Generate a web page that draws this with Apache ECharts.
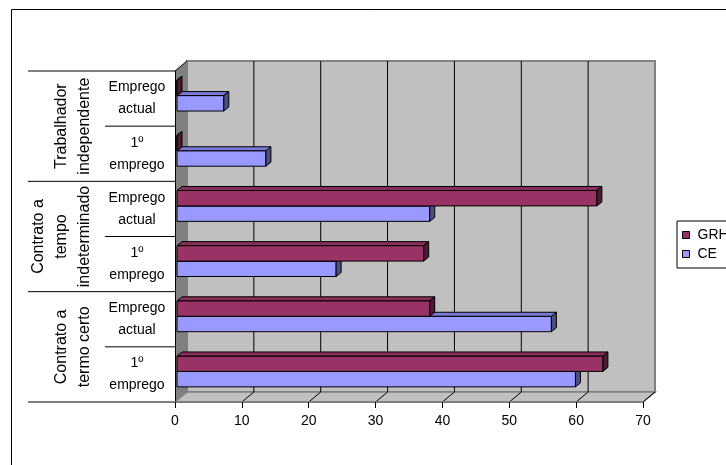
<!DOCTYPE html>
<html>
<head>
<meta charset="utf-8">
<script src="https://cdn.jsdelivr.net/npm/echarts@6/dist/echarts.min.js"></script>
<style>
  html, body { margin: 0; padding: 0; background: #ffffff; }
  #chart { width: 726px; height: 465px; }
</style>
</head>
<body>
<div id="chart"></div>
<script>
// Contract groups (outer level of the category axis) and job rows inside each group
const groups = ['Contrato a\ntermo certo', 'Contrato a\ntempo\nindeterminado', 'Trabalhador\nindependente'];
const jobs = ['1º\nemprego', 'Emprego\nactual'];
// One category per (group, job) pair, bottom to top
const categories = [
  'Contrato a termo certo / 1º emprego',
  'Contrato a termo certo / Emprego actual',
  'Contrato a tempo indeterminado / 1º emprego',
  'Contrato a tempo indeterminado / Emprego actual',
  'Trabalhador independente / 1º emprego',
  'Trabalhador independente / Emprego actual'
];
const seriesNames = ['GRH', 'CE'];
const grhValues = [63.7, 37.8, 36.9, 62.8, 0, 0];
const ceValues = [59.6, 56.0, 23.8, 37.8, 13.3, 7.0];
const xTicks = [0, 10, 20, 30, 40, 50, 60, 70];

const FONT = '"Liberation Sans", Arial, sans-serif';
// 3D look: wall depth, bar depth, bar placement inside the band
const WALL_DX = 12, WALL_DY = -10;
const BAR_DX = 5, BAR_DY = -4;
const BAR_SHIFT_X = 2, BAR_SHIFT_Y = -3;
const BAR_FRAC = 0.28;
const TABLE_LEFT = 28, TABLE_MID = 105;

const COLORS = {
  GRH: { front: '#993366', top: '#8a2e5c', side: '#4d1a33' },
  CE:  { front: '#9999ff', top: '#7a7ad6', side: '#4d4d80' }
};

function barRenderer(name, above) {
  const c = COLORS[name];
  return function (params, api) {
    const val = api.value(0), idx = api.value(1);
    const p0 = api.coord([0, idx]);
    const p1 = api.coord([val, idx]);
    const band = api.size([0, 1])[1];
    const h = band * BAR_FRAC;
    const x0 = p0[0] + BAR_SHIFT_X, x1 = p1[0] + BAR_SHIFT_X;
    const yc = p0[1] + BAR_SHIFT_Y;
    const yT = above ? yc - h : yc;
    const yB = above ? yc : yc + h;
    const line = { stroke: '#000', lineWidth: 1 };
    return {
      type: 'group',
      children: [
        { type: 'rect', shape: { x: x0, y: yT, width: x1 - x0, height: yB - yT },
          style: Object.assign({ fill: c.front }, line) },
        { type: 'polygon', shape: { points: [[x0, yT], [x0 + BAR_DX, yT + BAR_DY], [x1 + BAR_DX, yT + BAR_DY], [x1, yT]] },
          style: Object.assign({ fill: c.top }, line) },
        { type: 'polygon', shape: { points: [[x1, yT], [x1 + BAR_DX, yT + BAR_DY], [x1 + BAR_DX, yB + BAR_DY], [x1, yB]] },
          style: Object.assign({ fill: c.side }, line) }
      ]
    };
  };
}

// Walls, floor, gridlines and the two-level category table
function frameRenderer(params, api) {
  const cs = params.coordSys;
  const gx = cs.x, gy = cs.y, gw = cs.width, gh = cs.height;
  const gb = gy + gh;
  const band = api.size([0, 1])[1];
  const children = [];
  // back wall
  children.push({ type: 'rect', shape: { x: gx + WALL_DX, y: gy + WALL_DY, width: gw, height: gh },
    style: { fill: '#c0c0c0', stroke: '#808080', lineWidth: 2 } });
  // left wall
  children.push({ type: 'polygon', shape: { points: [[gx, gy], [gx + WALL_DX, gy + WALL_DY], [gx + WALL_DX, gb + WALL_DY], [gx, gb]] },
    style: { fill: '#808080', stroke: 'none' } });
  children.push({ type: 'line', shape: { x1: gx, y1: gy, x2: gx + WALL_DX, y2: gy + WALL_DY }, style: { stroke: '#000', lineWidth: 1 } });
  // floor
  children.push({ type: 'polygon', shape: { points: [[gx, gb], [gx + WALL_DX, gb + WALL_DY], [gx + gw + WALL_DX, gb + WALL_DY], [gx + gw, gb]] },
    style: { fill: '#c0c0c0', stroke: '#808080', lineWidth: 1.5 } });
  // gridlines on the back wall and their floor continuations
  xTicks.forEach(function (t) {
    const x = api.coord([t, 0])[0];
    if (t > xTicks[0] && t < xTicks[xTicks.length - 1]) {
      children.push({ type: 'line', shape: { x1: x + WALL_DX, y1: gy + WALL_DY, x2: x + WALL_DX, y2: gb + WALL_DY },
        style: { stroke: '#000', lineWidth: 1 } });
    }
    if (t > xTicks[0]) {
      children.push({ type: 'line', shape: { x1: x, y1: gb, x2: x + WALL_DX, y2: gb + WALL_DY },
        style: { stroke: '#000', lineWidth: 1 } });
    }
  });
  // category table lines
  for (let k = 0; k <= categories.length; k++) {
    const y = gb - k * band;
    const outer = (k === 0 || k === categories.length);
    const groupEdge = (k % jobs.length === 0);
    children.push({ type: 'line', shape: { x1: groupEdge ? TABLE_LEFT : TABLE_MID, y1: y, x2: gx, y2: y },
      style: { stroke: outer ? '#808080' : '#000', lineWidth: outer ? 2 : 1 } });
  }
  // group labels, rotated
  groups.forEach(function (g, gi) {
    const yA = api.coord([0, gi * jobs.length])[1];
    const yZ = api.coord([0, gi * jobs.length + jobs.length - 1])[1];
    children.push({ type: 'text', x: TABLE_MID - 9, y: (yA + yZ) / 2, rotation: Math.PI / 2,
      style: { text: g, fontSize: 16, lineHeight: 23, fontFamily: FONT, fill: '#000',
        align: 'center', verticalAlign: 'bottom' } });
  });
  return { type: 'group', children: children };
}

const chart = echarts.init(document.getElementById('chart'), null, { renderer: 'canvas' });
chart.setOption({
  animation: false,
  backgroundColor: '#ffffff',
  graphic: [
    { type: 'rect', shape: { x: 11.5, y: 9.5, width: 800, height: 500 },
      style: { fill: 'none', stroke: '#000', lineWidth: 1 }, z: 100 }
  ],
  grid: { left: 175, right: 83, top: 71, bottom: 63, containLabel: false },
  legend: {
    data: seriesNames,
    orient: 'vertical',
    left: 677, top: 221,
    itemWidth: 7, itemHeight: 7, itemGap: 5,
    padding: [7, 40, 7, 5],
    borderColor: '#000', borderWidth: 1, backgroundColor: '#fff',
    icon: 'rect',
    itemStyle: { borderColor: '#000', borderWidth: 1 },
    textStyle: { fontSize: 14, lineHeight: 14, fontFamily: FONT, color: '#000', padding: [0, 0, 0, 3] }
  },
  xAxis: {
    type: 'value', min: xTicks[0], max: xTicks[xTicks.length - 1], interval: xTicks[1] - xTicks[0],
    z: 10,
    axisLine: { show: true, lineStyle: { color: '#808080', width: 2 } },
    axisTick: { show: true, length: 6, lineStyle: { color: '#000', width: 1 } },
    axisLabel: { fontSize: 14, fontFamily: FONT, color: '#000', margin: 12 },
    splitLine: { show: false }
  },
  yAxis: {
    type: 'category', data: categories, z: 10,
    axisLine: { show: true, lineStyle: { color: '#000', width: 1 } },
    axisTick: { show: false },
    axisLabel: {
      formatter: function (v, i) { return jobs[i % jobs.length]; },
      fontSize: 14, lineHeight: 22, fontFamily: FONT, color: '#000',
      align: 'center', margin: 38
    },
    splitLine: { show: false }
  },
  series: [
    { type: 'custom', name: 'frame', silent: true, z: 1, clip: false,
      renderItem: frameRenderer, data: [[0, 0]], encode: { x: 0, y: 1 } },
    { type: 'custom', name: 'CE', z: 2, clip: false,
      itemStyle: { color: COLORS.CE.front },
      renderItem: barRenderer('CE', false),
      data: ceValues.map(function (v, i) { return [v, i]; }), encode: { x: 0, y: 1 } },
    { type: 'custom', name: 'GRH', z: 3, clip: false,
      itemStyle: { color: COLORS.GRH.front },
      renderItem: barRenderer('GRH', true),
      data: grhValues.map(function (v, i) { return [v, i]; }), encode: { x: 0, y: 1 } }
  ]
});
</script>
</body>
</html>
